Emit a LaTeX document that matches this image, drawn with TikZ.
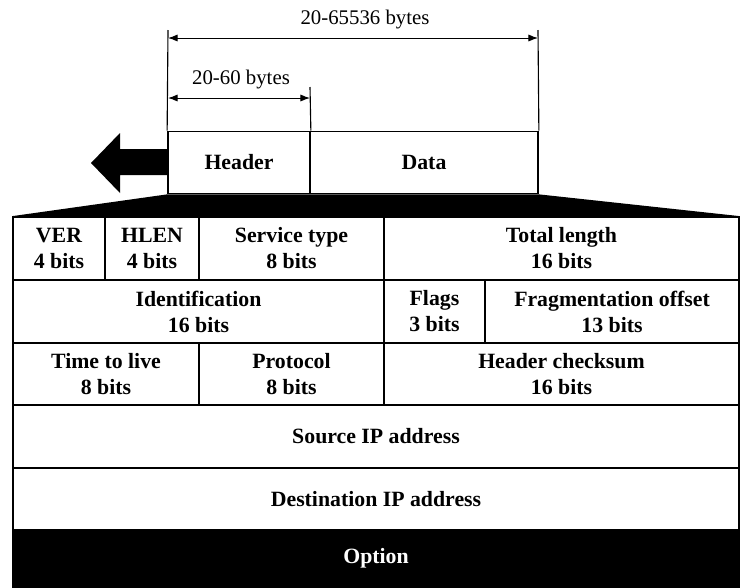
\documentclass[tikz,border=0pt]{standalone}
\usepackage{fontspec}
\setmainfont{Liberation Serif}
\usepackage{tikz}
\usetikzlibrary{positioning,calc,arrows.meta}

\begin{document}
\begin{tikzpicture}[
    x=0.025cm,y=-0.025cm,
    field/.style={draw,line width=1.2pt,inner sep=0pt,align=center,
                  font=\fontsize{15.5}{18.5}\selectfont\bfseries},
    rowA/.style={field,minimum height=1.575cm},
    rowB/.style={field,minimum height=1.55cm},
    dim/.style={line width=0.7pt,{Latex[length=2.4mm,width=1.8mm]}-{Latex[length=2.4mm,width=1.8mm]}},
    dimlabel/.style={font=\fontsize{14.8}{17}\selectfont,inner sep=1pt}
]
    \useasboundingbox (0,0) rectangle (750,587);

    % datagram: header and data
    \node[rowB,minimum width=3.55cm] (header) at (239,162.5) {Header};
    \node[rowB,minimum width=5.7cm] (data) at (424,162.5) {Data};

    % size marks above the datagram
    \coordinate (tickL) at (168,30);
    \coordinate (tickR) at (538,30);
    \coordinate (tickM) at (310,87);
    \draw[line width=0.8pt] (header.north west) -- (tickL);
    \draw[line width=0.8pt] (data.north east) -- (tickR);
    \draw[line width=0.8pt] (header.north east) -- (tickM);
    \coordinate (totA) at (168,38);
    \coordinate (totB) at (538,38);
    \coordinate (hdrA) at (168,98);
    \coordinate (hdrB) at (310,98);
    \draw[dim] (totA) -- (totB);
    \draw[dim] (hdrA) -- (hdrB);
    \node[dimlabel] (totlab) at (365,20) {20-65536 bytes};
    \node[dimlabel] (hdrlab) at (241,80) {20-60 bytes};

    % fat arrow pointing left
    \fill (header.west |- 0,149) -- (120,149) -- (120,133) -- (91,163)
          -- (120,193) -- (120,175) -- (header.west |- 0,175) -- cycle;

    % header fields, row by row
    \node[rowA,minimum width=2.3cm] (ver) at (59,248.5) {VER\\4 bits};
    \node[rowA,minimum width=2.35cm] (hlen) at (152,248.5) {HLEN\\4 bits};
    \node[rowA,minimum width=4.625cm] (tos) at (291.5,248.5) {Service type\\8 bits};
    \node[rowA,minimum width=8.875cm] (totlen) at (561.5,248.5) {Total length\\16 bits};

    \node[rowA,minimum width=9.275cm] (ident) at (198.5,311.5) {Identification\\16 bits};
    \node[rowA,minimum width=2.525cm] (flags) at (434.5,311.5) {Flags\\3 bits};
    \node[rowA,minimum width=6.35cm] (fragoff) at (612,311.5) {Fragmentation offset\\13 bits};

    \node[rowB,minimum width=4.65cm] (ttl) at (106,374) {Time to live\\8 bits};
    \node[rowB,minimum width=4.625cm] (proto) at (291.5,374) {Protocol\\8 bits};
    \node[rowB,minimum width=8.875cm] (chksum) at (561.5,374) {Header checksum\\16 bits};

    \node[rowA,minimum width=18.15cm] (srcip) at (376,436.5) {Source IP address};
    \node[rowB,minimum width=18.15cm] (dstip) at (376,499) {Destination IP address};
    \node[field,fill=black,text=white,minimum width=18.15cm,minimum height=1.425cm]
        (option) at (376,558.5) {Option};

    % header fanned out to the field table
    \fill (header.south west) -- (data.south east) -- (totlen.north east)
          -- (ver.north west) -- cycle;
\end{tikzpicture}
\end{document}
